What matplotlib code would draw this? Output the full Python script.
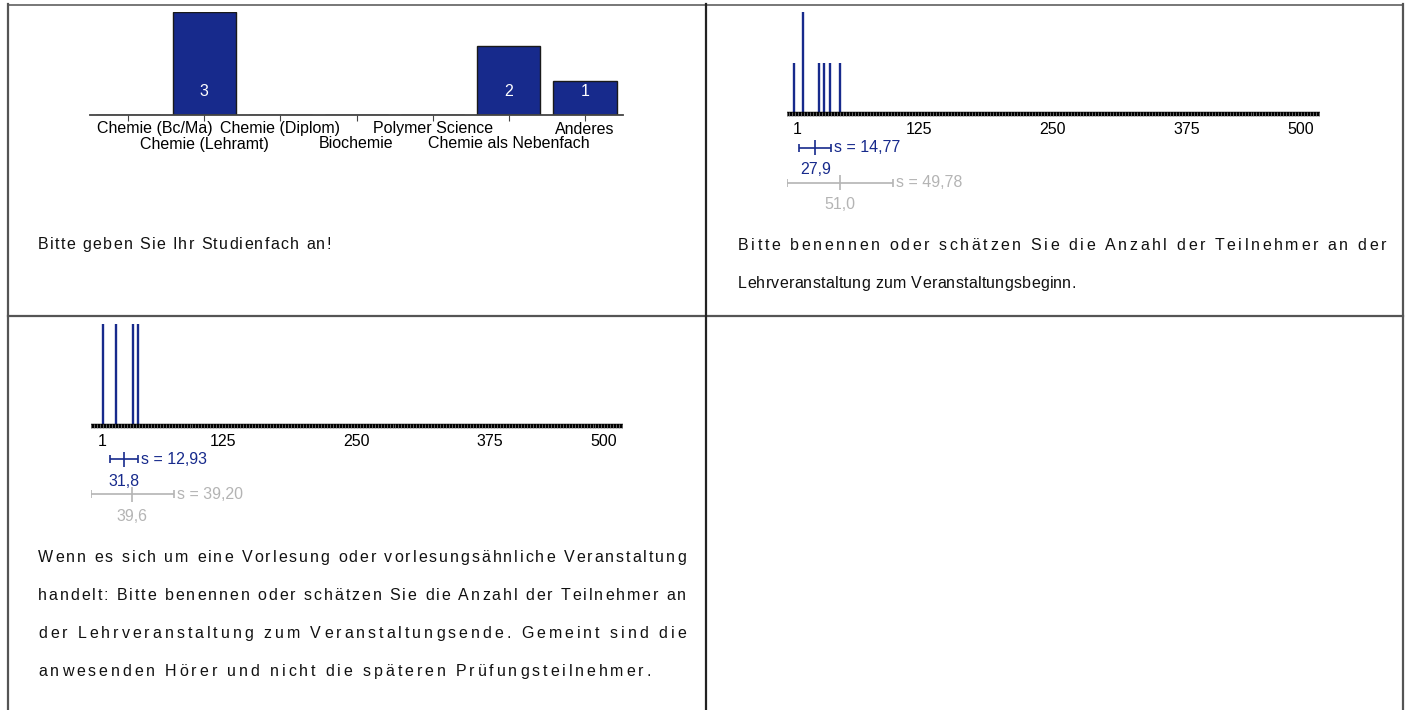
import matplotlib
matplotlib.use('Agg')
import matplotlib.pyplot as plt
import numpy as np
from matplotlib.font_manager import findfont, FontProperties
from matplotlib.ft2font import FT2Font

# Daten
faecher = ['Chemie (Bc/Ma)', 'Chemie (Lehramt)', 'Chemie (Diplom)', 'Biochemie',
           'Polymer Science', 'Chemie als Nebenfach', 'Anderes']
faecher_anzahl = [0, 3, 0, 0, 0, 2, 1]

beginn_werte = [8, 16, 31, 36, 42, 51]
beginn_anzahl = [1, 2, 1, 1, 1, 1]
beginn_mw, beginn_s = 27.9, 14.77
beginn_ref_mw, beginn_ref_s = 51.0, 49.78

ende_werte = [12, 24, 40, 45]
ende_anzahl = [1, 1, 1, 1]
ende_mw, ende_s = 31.8, 12.93
ende_ref_mw, ende_ref_s = 39.6, 39.20

skala_ticks = [1, 125, 250, 375, 500]

text_fach = ['Bitte geben Sie Ihr Studienfach an!']
text_beginn = ['Bitte benennen oder schätzen Sie die Anzahl der Teilnehmer an der',
               'Lehrveranstaltung zum Veranstaltungsbeginn.']
text_ende = ['Wenn es sich um eine Vorlesung oder vorlesungsähnliche Veranstaltung',
             'handelt: Bitte benennen oder schätzen Sie die Anzahl der Teilnehmer an',
             'der Lehrveranstaltung zum Veranstaltungsende. Gemeint sind die',
             'anwesenden Hörer und nicht die späteren Prüfungsteilnehmer.']

BLAU = '#172a8c'
GRAU = '#b4b4b4'
FONT = 'Liberation Sans'
FS = 11.5
W, H = 1407, 710

plt.rcParams['font.family'] = [FONT, 'DejaVu Sans']
plt.rcParams['font.size'] = FS

fig = plt.figure(figsize=(W / 100, H / 100), dpi=100)


def px_axes(x0, y0, x1, y1):
    return fig.add_axes([x0 / W, 1 - y1 / H, (x1 - x0) / W, (y1 - y0) / H])


# Hintergrund-Achse in Pixelkoordinaten
bg = fig.add_axes([0, 0, 1, 1])
bg.set_xlim(0, W)
bg.set_ylim(H, 0)
bg.axis('off')

# Tabellenrahmen
bg.plot([7.5, 1403], [4.5, 4.5], color='#777777', lw=1.4)
bg.plot([7.5, 1403], [315.5, 315.5], color='#555555', lw=1.6)
for xv, c in [(7.5, '#555555'), (705.5, '#222222'), (1403, '#555555')]:
    bg.plot([xv, xv], [4, H], color=c, lw=1.6)

# Zeichenweise gesetzter Text (Blocksatz / Sperrung)
fpath = findfont(FontProperties(family=FONT))
ft = FT2Font(fpath)
ft.set_size(FS, 100)


def gesperrt(x0, x1, y, text):
    adv = []
    for ch in text:
        g = ft.load_char(ord(ch))
        adv.append(g.linearHoriAdvance / 65536)
    extra = (x1 - x0 - sum(adv)) / (len(text) - 1)
    x = x0
    for ch, a in zip(text, adv):
        if ch != ' ':
            bg.text(x, y, ch, ha='left', va='baseline', fontsize=FS, color='#111111')
        x += a + extra


gesperrt(38, 331, 249, text_fach[0])
gesperrt(738, 1386, 250, text_beginn[0])
gesperrt(738, 1076, 288, text_beginn[1])
for zeile, (y, x1) in zip(text_ende, [(562, 686), (600, 686), (638, 686), (676, 651)]):
    gesperrt(38, x1, y, zeile)

# Panel 1: Balkendiagramm Studienfach
ax1 = px_axes(90, 12, 623, 115)
pos = np.arange(len(faecher))
ax1.bar(pos, faecher_anzahl, width=0.83, color=BLAU, edgecolor='#1a1a1a', lw=1)
ax1.set_xlim(-0.5, len(faecher) - 0.5)
ax1.set_ylim(0, max(faecher_anzahl))
for s in ['top', 'right', 'left']:
    ax1.spines[s].set_visible(False)
ax1.spines['bottom'].set_color('#444444')
ax1.spines['bottom'].set_linewidth(1.3)
ax1.set_yticks([])
ax1.set_xticks(pos)
ax1.tick_params(axis='x', length=4, color='#444444', labelbottom=False)
for i, name in enumerate(faecher):
    dy = -14 if i % 2 == 0 else -29
    if i == 0:
        # erstes Label bündig am linken Rand
        ax1.annotate(name, xy=(0, 0), xycoords='axes fraction',
                     xytext=(7, dy), textcoords='offset pixels',
                     ha='left', va='center', fontsize=FS, annotation_clip=False)
    else:
        ax1.annotate(name, xy=(i, 0), xycoords=('data', 'axes fraction'),
                     xytext=(0, dy), textcoords='offset pixels',
                     ha='center', va='center', fontsize=FS, annotation_clip=False)
    if faecher_anzahl[i] > 0:
        ax1.annotate(str(faecher_anzahl[i]), xy=(i, 0), xytext=(0, 23),
                     textcoords='offset pixels', ha='center', va='center',
                     fontsize=FS, color='white')


def komma(v, n):
    return f'{v:.{n}f}'.replace('.', ',')


def stat_balken(ax, m, s, y, farbe):
    lo, hi = max(1, m - s), m + s
    ax.hlines(y, lo, hi, color=farbe, lw=1.2)
    ax.vlines([lo, hi], y - 4, y + 4, color=farbe, lw=1.2)
    ax.vlines(m, y - 7.5, y + 7.5, color=farbe, lw=1.2)
    ax.annotate('s = ' + komma(s, 2), xy=(hi, y), xytext=(3, 0), textcoords='offset pixels',
                ha='left', va='center', fontsize=FS, color=farbe, annotation_clip=False)
    ax.annotate(komma(m, 1), xy=(m, y + 22), ha='center', va='center',
                fontsize=FS, color=farbe, annotation_clip=False)


def skala(x0, x1, y_top, y_axis, werte, anzahl, mw, s, ref_mw, ref_s):
    ax = px_axes(x0, y_top, x1, y_axis)
    ax.vlines(werte, 0, anzahl, color=BLAU, lw=1.7)
    ax.set_xlim(1, 500)
    ax.set_ylim(0, max(anzahl))
    ax.axis('off')
    # dicke Skala mit feiner Strichelung
    ax.plot([1, 500], [0, 0], color='black', lw=3.2, solid_capstyle='butt', clip_on=False)
    d = 2.2 / (y_axis - y_top)
    ax.vlines(np.arange(1, 500, 2.8), -d, d, transform=ax.get_xaxis_transform(),
              color='#8a8a8a', lw=0.5, clip_on=False)
    for t in skala_ticks:
        dx = 11 if t == skala_ticks[0] else (-19 if t == skala_ticks[-1] else 0)
        ax.annotate(str(t), xy=(t, 0), xycoords=('data', 'axes fraction'),
                    xytext=(dx, -15), textcoords='offset pixels',
                    ha='center', va='center', fontsize=FS, annotation_clip=False)
    # Mittelwert / Streuung
    st = px_axes(x0, y_axis, x1, y_axis + 110)
    st.set_xlim(1, 500)
    st.set_ylim(110, 0)
    st.axis('off')
    stat_balken(st, mw, s, 33.4, BLAU)
    stat_balken(st, ref_mw, ref_s, 68.4, GRAU)


skala(786.5, 1320, 12, 114.3, beginn_werte, beginn_anzahl,
      beginn_mw, beginn_s, beginn_ref_mw, beginn_ref_s)
skala(91, 623, 324, 426, ende_werte, ende_anzahl,
      ende_mw, ende_s, ende_ref_mw, ende_ref_s)

fig.savefig('out.png', dpi=100)
